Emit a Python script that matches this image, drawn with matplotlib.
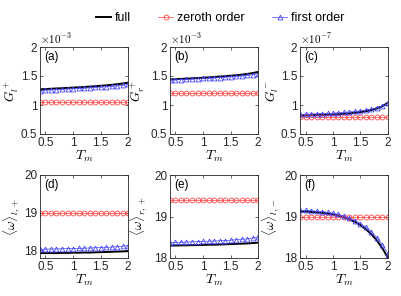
import matplotlib
matplotlib.use("Agg")
import matplotlib.pyplot as plt
import numpy as np

plt.rcParams['font.family'] = ['Liberation Sans', 'DejaVu Sans']
plt.rcParams['mathtext.fontset'] = 'cm'

Tm = [0.4, 0.5, 0.6, 0.7, 0.8, 0.9, 1.0, 1.1, 1.2, 1.3, 1.4, 1.5, 1.6, 1.7, 1.8, 1.9, 2.0]

# (a) G_l^+  (x1e-3)
a_full = [1.27, 1.275, 1.28, 1.285, 1.29, 1.295, 1.30, 1.305, 1.31, 1.317, 1.324, 1.331, 1.339, 1.348, 1.358, 1.37, 1.385]
a_zero = [1.06] * 17
a_first = [1.25, 1.255, 1.26, 1.265, 1.27, 1.275, 1.28, 1.285, 1.29, 1.296, 1.302, 1.308, 1.315, 1.322, 1.33, 1.34, 1.355]
# (b) G_r^+  (x1e-3)
b_full = [1.44, 1.445, 1.45, 1.455, 1.46, 1.465, 1.47, 1.476, 1.482, 1.49, 1.497, 1.505, 1.513, 1.523, 1.535, 1.55, 1.57]
b_zero = [1.20] * 17
b_first = [1.43, 1.434, 1.438, 1.442, 1.447, 1.452, 1.457, 1.462, 1.467, 1.473, 1.479, 1.486, 1.493, 1.50, 1.51, 1.52, 1.54]
# (c) G_l^-  (x1e-7)
c_full = [0.82, 0.82, 0.825, 0.828, 0.83, 0.833, 0.837, 0.842, 0.848, 0.856, 0.866, 0.878, 0.893, 0.913, 0.94, 0.98, 1.04]
c_zero = [0.80] * 17
c_first = [0.84, 0.842, 0.845, 0.848, 0.851, 0.855, 0.86, 0.865, 0.872, 0.88, 0.89, 0.90, 0.915, 0.932, 0.955, 0.985, 1.03]
# (d) <omega>_{l,+}
d_full = [17.93, 17.93, 17.93, 17.93, 17.935, 17.935, 17.94, 17.94, 17.945, 17.945, 17.95, 17.955, 17.96, 17.965, 17.97, 17.975, 17.98]
d_zero = [19.0] * 17
d_first = [18.03, 18.035, 18.04, 18.04, 18.045, 18.05, 18.05, 18.055, 18.06, 18.065, 18.07, 18.075, 18.08, 18.09, 18.10, 18.11, 18.13]
# (e) <omega>_{r,+}
e_full = [18.30, 18.30, 18.305, 18.305, 18.31, 18.31, 18.315, 18.32, 18.32, 18.325, 18.33, 18.335, 18.34, 18.345, 18.35, 18.36, 18.37]
e_zero = [19.4] * 17
e_first = [18.37, 18.375, 18.38, 18.385, 18.39, 18.395, 18.40, 18.405, 18.41, 18.415, 18.42, 18.43, 18.44, 18.45, 18.46, 18.48, 18.50]
# (f) <omega>_{l,-}
f_full = [19.12, 19.12, 19.11, 19.10, 19.09, 19.07, 19.05, 19.02, 18.98, 18.93, 18.87, 18.79, 18.69, 18.57, 18.42, 18.23, 18.00]
f_zero = [19.0] * 17
f_first = [19.15, 19.15, 19.14, 19.13, 19.12, 19.10, 19.08, 19.05, 19.01, 18.96, 18.90, 18.83, 18.74, 18.63, 18.49, 18.32, 18.10]

panels = [
    ("(a)", r"$G_l^+$", a_full, a_zero, a_first, (0.5, 2), [0.5, 1, 1.5, 2], r"$\times10^{-3}$"),
    ("(b)", r"$G_r^+$", b_full, b_zero, b_first, (0.5, 2), [0.5, 1, 1.5, 2], r"$\times10^{-3}$"),
    ("(c)", r"$G_l^-$", c_full, c_zero, c_first, (0.5, 2), [0.5, 1, 1.5, 2], r"$\times10^{-7}$"),
    ("(d)", r"$\langle\omega\rangle_{l,+}$", d_full, d_zero, d_first, (17.8, 20), [18, 19, 20], None),
    ("(e)", r"$\langle\omega\rangle_{r,+}$", e_full, e_zero, e_first, (18, 20), [18, 19, 20], None),
    ("(f)", r"$\langle\omega\rangle_{l,-}$", f_full, f_zero, f_first, (18, 20), [18, 19, 20], None),
]

W, H = 402, 296
fig = plt.figure(figsize=(W / 100, H / 100), dpi=100)
lefts = [40, 170, 300]
widths = [88, 88, 88]
rows = [(47, 134), (175, 258)]
ylab_x = [-0.32, -0.36, -0.32, -0.32, -0.35, -0.33]

fs = 8.5
handles = None
for i, (lab, ylab, full, zero, first, ylim, yt, off) in enumerate(panels):
    r, c = divmod(i, 3)
    top, bot = rows[r]
    ax = fig.add_axes([lefts[c] / W, 1 - bot / H, widths[c] / W, (bot - top) / H])
    h1, = ax.plot(Tm, full, color="black", lw=1.4, label="full")
    h2, = ax.plot(Tm, zero, color="#ff4444", lw=0.5, marker="o", ms=3.5, mfc="none", mew=0.6, label="zeroth order")
    h3, = ax.plot(Tm, first, color="#4444ff", lw=0.5, marker="^", ms=3.5, mfc="none", mew=0.6, label="first order")
    handles = [h1, h2, h3]
    ax.set_xlim(0.4, 2)
    ax.set_ylim(*ylim)
    ax.set_xticks([0.5, 1, 1.5, 2])
    ax.set_xticklabels(["0.5", "1", "1.5", "2"])
    ax.set_yticks(yt)
    ax.set_yticklabels([("%g" % v) for v in yt])
    ax.tick_params(direction="in", top=True, right=True, labelsize=fs, length=2.5, width=0.5, pad=2, colors="#262626")
    for s in ax.spines.values():
        s.set_linewidth(0.6)
        s.set_color("#262626")
    ax.set_xlabel(r"$T_m$", fontsize=fs + 1.5, labelpad=0)
    ax.set_ylabel(ylab, fontsize=fs + 1, va="center")
    ax.yaxis.set_label_coords(ylab_x[i], 0.5)
    ax.text(0.05, 0.95, lab, transform=ax.transAxes, ha="left", va="top", fontsize=fs)
    if off:
        ax.text(0.0, 1.01, off, transform=ax.transAxes, ha="left", va="bottom", fontsize=fs - 0.5,
                family=['DejaVu Sans'])

fig.legend(handles=handles, loc="center", bbox_to_anchor=(220 / W, 1 - 18 / H), ncol=3, frameon=False,
           fontsize=fs + 0.5, handlelength=1.2, handletextpad=0.3, columnspacing=2.2)

fig.savefig("out.png", dpi=100)
